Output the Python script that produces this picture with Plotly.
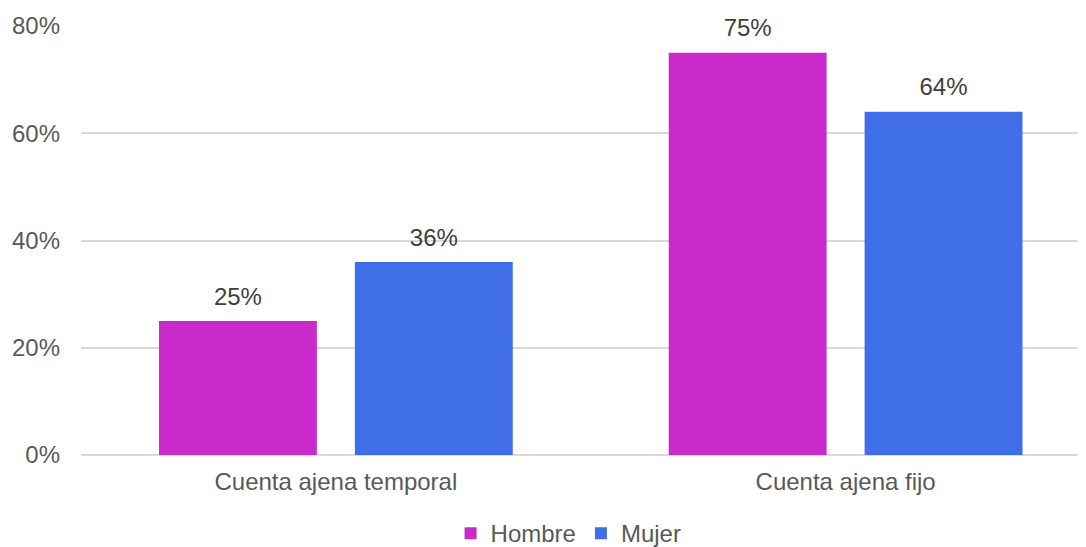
import plotly.graph_objects as go

categories = ["Cuenta ajena temporal", "Cuenta ajena fijo"]
hombre = [0.25, 0.75]
mujer = [0.36, 0.64]
series_names = ["Hombre", "Mujer"]
tick_vals = [0, 0.2, 0.4, 0.6, 0.8]
tick_text = ["0%", "20%", "40%", "60%", "80%"]

colors = ["#C92BCB", "#3F6EE8"]
FONT = "Liberation Sans, Arial, sans-serif"
FS = 24
GAP = 0.2314

fig = go.Figure()
for name, vals, col in zip(series_names, [hombre, mujer], colors):
    fig.add_trace(go.Bar(
        x=categories, y=vals, name=name, offsetgroup=name,
        marker=dict(color=col, line=dict(width=0)),
        hoverinfo="skip",
    ))
for name, vals in zip(series_names, [hombre, mujer]):
    fig.add_trace(go.Scatter(
        x=categories, y=vals, offsetgroup=name, mode="markers+text",
        marker=dict(size=15, color="rgba(0,0,0,0)"),
        text=[f"{v:.0%}" for v in vals], textposition="top center",
        textfont=dict(family=FONT, size=FS, color="#404040"),
        showlegend=False, cliponaxis=False, hoverinfo="skip",
    ))

# page body has an 8px default margin; figure sized to fill the rest of the window
fig.update_layout(
    width=1078, height=539,
    margin=dict(l=72.5, r=0, t=18, b=92),
    paper_bgcolor="white", plot_bgcolor="white",
    barmode="group", bargap=GAP, bargroupgap=0.194,
    scattermode="group", scattergap=GAP,
    font=dict(family=FONT, size=FS, color="#595959"),
    showlegend=True,
    legend=dict(orientation="h", xref="container", yref="container",
                x=0.52, xanchor="center", y=0.025, yanchor="middle",
                font=dict(family=FONT, size=FS, color="#595959"),
                itemclick=False),
)
fig.update_xaxes(range=[-0.5, 1.4716], showgrid=False, showline=False,
                 ticks="", ticklabelstandoff=10,
                 tickfont=dict(family=FONT, size=FS, color="#595959"))
fig.update_yaxes(range=[0, 0.8], tickvals=tick_vals, ticktext=tick_text,
                 showgrid=True, gridcolor="#D9D9D9", gridwidth=1.5,
                 zeroline=True, zerolinecolor="#D9D9D9", zerolinewidth=1.5,
                 showline=False, ticks="", ticklabelstandoff=20,
                 tickfont=dict(family=FONT, size=FS, color="#595959"))

fig.write_html("out.html")
